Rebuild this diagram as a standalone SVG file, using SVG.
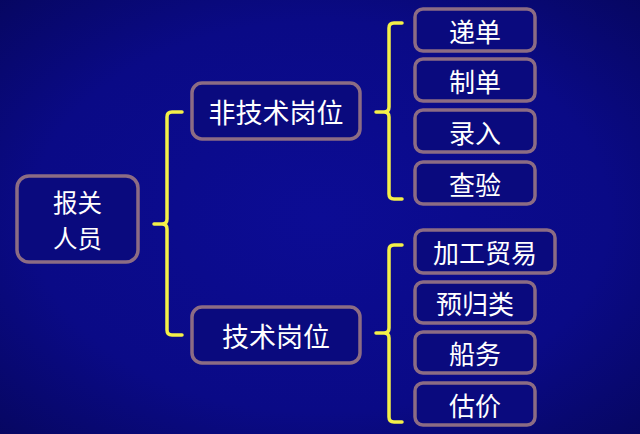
<svg xmlns="http://www.w3.org/2000/svg" width="640" height="434" viewBox="0 0 640 434">
<defs>
<radialGradient id="bg" cx="50%" cy="50%" r="75%">
<stop offset="0" stop-color="#0c0c94"/>
<stop offset="0.6" stop-color="#0a0a86"/>
<stop offset="1" stop-color="#06065c"/>
</radialGradient>
<style>
.box{fill:#0a0a7e;stroke:#8c6c84;stroke-width:3.5}
.t{fill:#ffffff;font-family:"Noto Sans CJK SC","Noto Sans",sans-serif;font-size:26px;text-anchor:middle;dominant-baseline:central}
.br{fill:none;stroke:#f4f048;stroke-width:3.5;stroke-linecap:round;stroke-linejoin:round}
</style>
</defs>
<rect width="640" height="434" fill="url(#bg)"/>
<g id="connectors">
<path class="br" d="M182 112 H172 Q167 112 167 117 V219 Q167 224 162 224 H154 M162 224 Q167 224 167 229 V330 Q167 335 172 335 H182"/>
<path class="br" d="M402 23 H394 Q389 23 389 28 V107 Q389 112 384 112 H376 M384 112 Q389 112 389 117 V194 Q389 199 394 199 H402"/>
<path class="br" d="M402 245 H394 Q389 245 389 250 V328 Q389 333 384 333 H376 M384 333 Q389 333 389 338 V417 Q389 422 394 422 H402"/>
</g>
<g id="root"><rect class="box" x="17" y="176" width="121" height="86" rx="12"/><text class="t" x="77.5" y="201.5" style="font-size:24.5px">报关</text><text class="t" x="77.5" y="237" style="font-size:24.5px">人员</text></g>
<g id="nontech"><rect class="box" x="192" y="83" width="168" height="56" rx="10"/><text class="t" x="276" y="111" style="font-size:27px">非技术岗位</text></g>
<g id="tech"><rect class="box" x="192" y="307" width="168" height="56" rx="10"/><text class="t" x="276" y="335" style="font-size:27px">技术岗位</text></g>
<g id="n1"><rect class="box" x="415" y="9" width="120" height="42" rx="8"/><text class="t" x="475" y="30">递单</text></g>
<g id="n2"><rect class="box" x="415" y="59" width="120" height="42" rx="8"/><text class="t" x="475" y="80">制单</text></g>
<g id="n3"><rect class="box" x="415" y="110" width="120" height="42" rx="8"/><text class="t" x="475" y="131">录入</text></g>
<g id="n4"><rect class="box" x="415" y="162" width="120" height="42" rx="8"/><text class="t" x="475" y="183">查验</text></g>
<g id="t1"><rect class="box" x="415" y="230" width="140" height="43" rx="8"/><text class="t" x="485" y="251.5">加工贸易</text></g>
<g id="t2"><rect class="box" x="415" y="282" width="120" height="41" rx="8"/><text class="t" x="475" y="302.5">预归类</text></g>
<g id="t3"><rect class="box" x="415" y="332" width="120" height="41" rx="8"/><text class="t" x="475" y="352.5">船务</text></g>
<g id="t4"><rect class="box" x="415" y="383" width="120" height="42" rx="8"/><text class="t" x="475" y="404">估价</text></g>
</svg>
